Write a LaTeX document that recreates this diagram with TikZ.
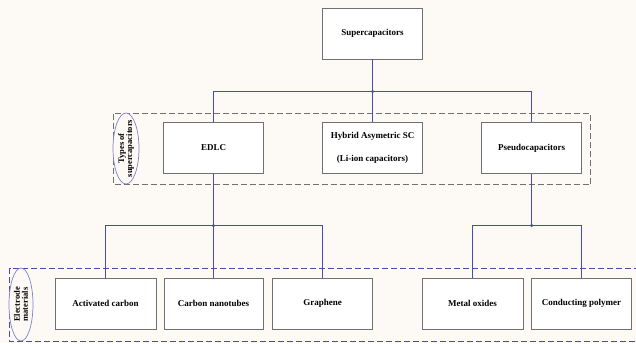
\documentclass[tikz,border=0pt]{standalone}
\usepackage{fontspec}
\setmainfont{Liberation Serif}
\usetikzlibrary{shapes.geometric}
\definecolor{paper}{HTML}{FDFAF5}
\definecolor{wire}{HTML}{4A4AB4}
\definecolor{frame}{HTML}{707070}

\begin{document}
\begin{tikzpicture}[x=1pt,y=-1pt]
    % Canvas
    \fill [paper] (0,0) rectangle (636,343);
    \useasboundingbox (0,0) rectangle (636,343);

\begin{scope}[font=\fontsize{9}{11}\selectfont\bfseries]
    % Groups:
    % Dashed frames round each level, with a rotated tag on the left:
    \draw [frame, line width=0.8pt, dash pattern=on 6pt off 3pt] (113.5,113.5) rectangle (590.5,184.5);
    \draw [wire, line width=0.8pt, dash pattern=on 6pt off 3pt] (640,268.5) -- (9.5,268.5) -- (9.5,341.5) -- (640,341.5);
    \fill [paper] (126,148.5) ellipse (13 and 35.5);
    \draw [wire!70, line width=0.7pt] (126,148.5) ellipse (13 and 35.5);
    \node [rotate=90, align=center, inner sep=0pt, font=\fontsize{8.5}{8}\selectfont\bfseries] (types) at (126,148.5) {Types of\\supercapacitors};
    \fill [paper] (21,304.5) ellipse (12 and 36.5);
    \draw [wire!70, line width=0.7pt] (21,304.5) ellipse (12 and 36.5);
    \node [rotate=90, align=center, inner sep=0pt, font=\fontsize{8.5}{8}\selectfont\bfseries] (electrode) at (21,304.5) {Electrode\\materials};

    % Boxes
    \tikzset{box/.style={draw=frame, fill=white, line width=0.8pt, minimum width=100pt, minimum height=51pt, align=center}}
    \node [box] (super) at (372.5,33.5) {Supercapacitors};
    \node [box] (edlc) at (213.5,148) {EDLC};
    \node [box] (hybrid) at (372.5,148) {Hybrid Asymetric SC\\[12pt](Li-ion capacitors)};
    \node [box] (pseudo) at (531.5,148) {Pseudocapacitors};
    \node [box, minimum width=101pt] (act) at (105.5,303.5) {Activated carbon};
    \node [box, minimum width=99pt] (nano) at (213.5,303.5) {Carbon nanotubes};
    \node [box] (graph) at (322.5,303.5) {Graphene};
    \node [box, minimum width=101pt] (metal) at (472.5,303.5) {Metal oxides};
    \node [box] (poly) at (581.5,303.5) {Conducting polymer};
\end{scope}

    % Junctions
    \tikzset{junction/.style={circle, fill=wire, inner sep=0pt, minimum size=3.5pt}}
    \node [junction] (j0) at (372.5,91.5) {};
    \node [junction] (j1) at (213.5,225.5) {};
    \node [junction] (j2) at (531.5,225.5) {};

    % Connectors
\begin{scope}[draw=wire, line width=0.7pt]
    \draw (super) -- (j0);
    \draw (edlc.north) |- (j0.center) -| (pseudo.north);
    \draw (j0) -- (hybrid);
    \draw (edlc) -- (j1);
    \draw (act.north) |- (j1.center) -| (graph.north);
    \draw (j1) -- (nano);
    \draw (pseudo) -- (j2);
    \draw (metal.north) |- (j2.center) -| (poly.north);
\end{scope}
\end{tikzpicture}
\end{document}
